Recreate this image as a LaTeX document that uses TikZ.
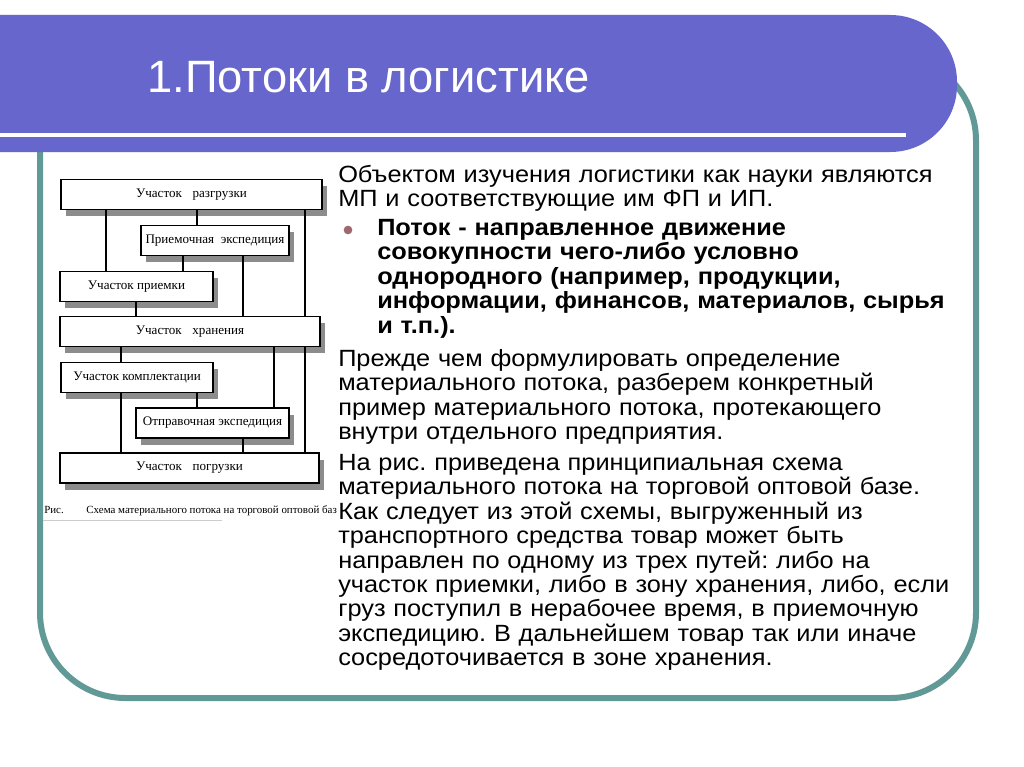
\documentclass[tikz,border=0pt]{standalone}
\usepackage{fontspec}
\setmainfont{Liberation Sans}
\newfontfamily\bodyfont{Liberation Sans}[FakeStretch=1.08]
\newfontfamily\timesfont{Liberation Serif}
\usetikzlibrary{shadows}
\definecolor{bandblue}{RGB}{102,102,204}
\definecolor{frameteal}{RGB}{96,153,150}
\definecolor{bulletred}{RGB}{160,104,110}
\frenchspacing
\tikzset{
  unitbox/.style={draw, line width=1.3pt, fill=white, minimum height=22.5pt, inner sep=0pt,
    font=\timesfont\fontsize{9.8}{11}\selectfont,
    drop shadow={shadow xshift=3.5pt, shadow yshift=-5pt, fill=black!45, opacity=1}},
  flowline/.style={line width=1pt},
  bodytext/.style={anchor=north west, inner sep=0pt, text width=520pt, align=left,
    font=\bodyfont\fontsize{17.6}{18.3}\selectfont},
}
\begin{document}
\begin{tikzpicture}[x=0.75pt,y=-0.75pt]
\useasboundingbox (0,0) rectangle (1024,767);
\fill[white] (0,0) rectangle (1024,767);
% frame and title band
\draw[frameteal, line width=4.5pt, rounded corners=64pt] (40,55) rectangle (976,698);
\fill[bandblue, rounded corners=50pt] (-100,15) rectangle (957,152);
\draw[white, line width=3pt] (-5,135) -- (906,135);
\node[anchor=base west, inner sep=0pt, text=white, font=\fontsize{34}{40}\selectfont] (title) at (147,93) {1.Потоки в логистике};
% scheme of the warehouse
\node[unitbox, minimum width=195.8pt] (razgr) at (191.5,194.5) {Участок\hspace{8pt}разгрузки\hspace{21pt}};
\node[unitbox, minimum width=111pt] (priemexp) at (215,240.5) {Приемочная\hspace{5pt}экспедиция};
\node[unitbox, minimum width=114.8pt] (priem) at (136.5,286.5) {Участок приемки\hspace{4pt}};
\node[unitbox, minimum width=195pt] (hran) at (190,331.5) {Участок\hspace{8pt}хранения\hspace{21pt}};
\node[unitbox, minimum width=114pt] (kompl) at (137,377.5) {Участок комплектации};
\node[unitbox, minimum width=114.8pt] (otprexp) at (212.5,423) {Отправочная экспедиция};
\node[unitbox, minimum width=194.3pt] (pogr) at (189.5,468) {Участок\hspace{8pt}погрузки\hspace{21pt}};
\foreach \a/\b/\x in {razgr/priem/106, razgr/priemexp/197, razgr/hran/305,
    priemexp/priem/183, priemexp/hran/243, priem/hran/136,
    hran/kompl/121, hran/otprexp/274, hran/pogr/305,
    kompl/pogr/121, kompl/otprexp/197, otprexp/pogr/243}
  \draw[flowline] (\a.south -| \x,0) -- (\b.north -| \x,0);
\begin{scope}
  \clip (40,500) rectangle (336,525);
  \node[anchor=base west, inner sep=0pt, font=\timesfont\fontsize{8.2}{9}\selectfont] (caption) at (44,513) {Рис.\hspace{17pt}Схема материального потока на торговой оптовой базе};
\end{scope}
\draw[black!20, line width=0.6pt] (43,520) -- (222,520);
% text column
\node[bodytext] (objekt) at (338,165) {Объектом изучения логистики как науки являются\\МП и соответствующие им ФП и ИП.};
\node[circle, fill=bulletred, inner sep=0pt, minimum size=6.5pt] (dot) at (348,230) {};
\node[bodytext, font=\bodyfont\bfseries\fontsize{17.6}{18.3}\selectfont] (potok) at (377,219) {Поток - направленное движение\\совокупности чего-либо условно\\однородного (например, продукции,\\информации, финансов, материалов, сырья\\и т.п.).};
\node[bodytext] (prezhde) at (338,349) {Прежде чем формулировать определение\\материального потока, разберем конкретный\\пример материального потока, протекающего\\внутри отдельного предприятия.};
\node[bodytext] (narис) at (338,454) {На рис. приведена принципиальная схема\\материального потока на торговой оптовой базе.\\Как следует из этой схемы, выгруженный из\\транспортного средства товар может быть\\направлен по одному из трех путей: либо на\\участок приемки, либо в зону хранения, либо, если\\груз поступил в нерабочее время, в приемочную\\экспедицию. В дальнейшем товар так или иначе\\сосредоточивается в зоне хранения.};
\end{tikzpicture}
\end{document}
